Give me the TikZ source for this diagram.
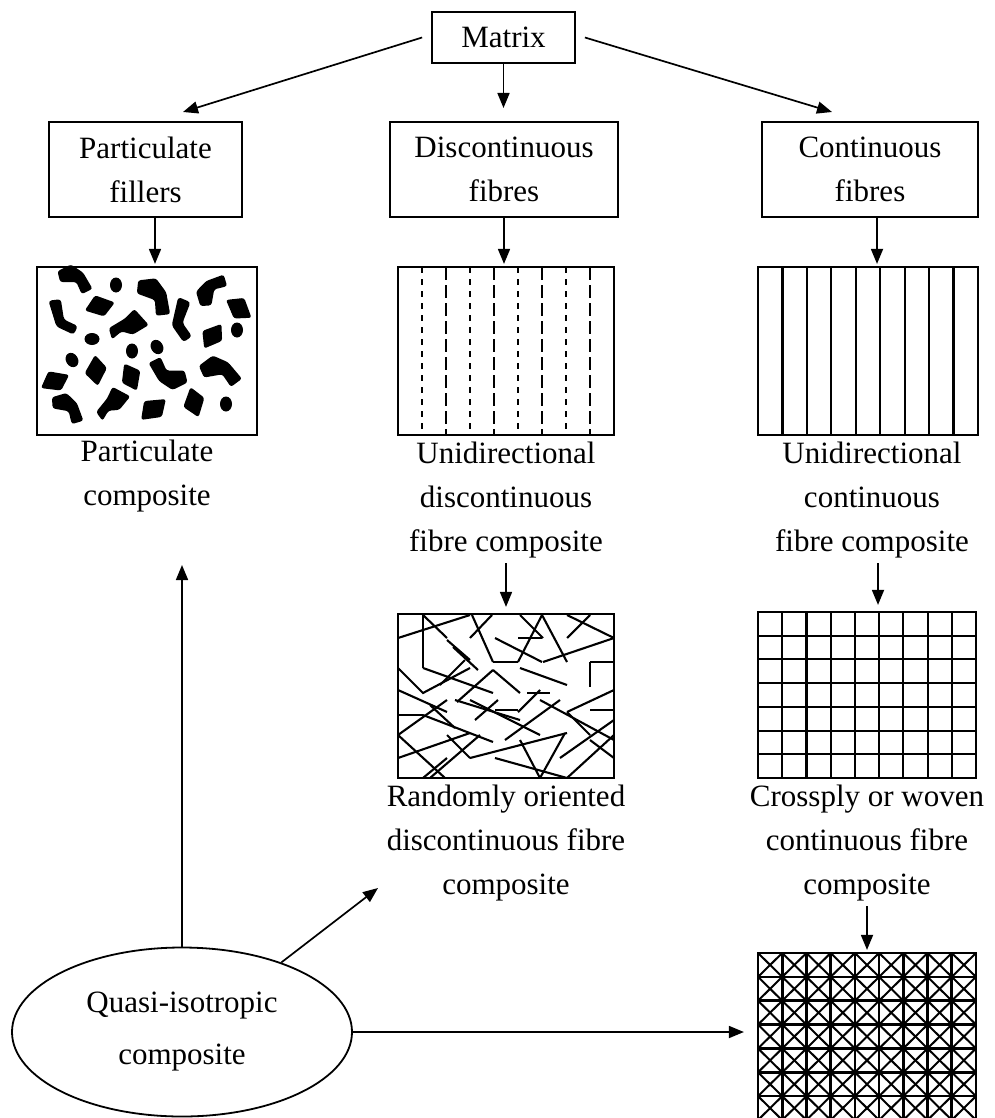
\documentclass[tikz,border=0pt]{standalone}
\usepackage{fontspec}
\setmainfont{Liberation Serif}
\usetikzlibrary{arrows.meta,shapes.geometric,calc}
\tikzset{
  tbox/.style={draw,line width=1.8pt,align=center,inner sep=0pt,font=\fontsize{31}{44}\selectfont},
  panel/.style={draw,line width=2.2pt,inner sep=0pt},
  lbl/.style={align=center,inner sep=0pt,font=\fontsize{31}{44}\selectfont},
  arr/.style={line width=1.7pt,-{Triangle[length=15pt,width=12pt]}},
  fib/.style={line width=2.1pt},
  blobL/.pic={\fill[rounded corners=2.5pt] (-13,-5) -- (-3,-10) -- (6,-4) -- (13,8) -- (5,12) -- (1,3) -- (-11,3) -- cycle;},
  blobK/.pic={\fill[rounded corners=2.5pt] (-12,0) -- (-1,-8) -- (11,2) -- (0,9) -- cycle;},
  blobS/.pic={\fill[rounded corners=3pt] (-6,-15) -- (3,-13) -- (0,2) -- (8,10) -- (3,15) -- (-7,5) -- cycle;},
  blobV/.pic={\fill[rounded corners=2.5pt] (-12,2) -- (-2,-4) -- (4,-10) -- (13,0) -- (3,6) -- (-4,4) -- (-10,9) -- cycle;},
  dotp/.pic={\fill (0,0) ellipse (6pt and 7.5pt);}
}
\begin{document}
\begin{tikzpicture}[x=1pt,y=-1pt]
\useasboundingbox (0,0) rectangle (994,1118);

% top boxes
\node[tbox,minimum width=143pt,minimum height=51pt] (M) at (503.5,37.5) {Matrix};
\node[tbox,minimum width=193pt,minimum height=95pt] (PF) at (145.5,169.5) {Particulate\\fillers};
\node[tbox,minimum width=228pt,minimum height=95pt] (DF) at (504,169.5) {Discontinuous\\fibres};
\node[tbox,minimum width=216pt,minimum height=95pt] (CF) at (870,169.5) {Continuous\\fibres};

% panels
\node[panel,minimum width=220pt,minimum height=168pt] (PC) at (147,351) {};
\node[panel,minimum width=216pt,minimum height=168pt] (UD) at (506,351) {};
\node[panel,minimum width=220pt,minimum height=168pt] (UC) at (868,351) {};
\node[panel,minimum width=216pt,minimum height=164pt] (RO) at (506,696) {};
\node[panel,minimum width=218pt,minimum height=166pt] (CP) at (867,695) {};
\node[panel,minimum width=218pt,minimum height=167pt] (XB) at (867,1036.5) {};

% labels
\node[lbl] (PCl) at (147,476) {Particulate\\composite};
\node[lbl] (UDl) at (506,500) {Unidirectional\\discontinuous\\fibre composite};
\node[lbl] (UCl) at (872,500) {Unidirectional\\continuous\\fibre composite};
\node[lbl] (ROl) at (506,843) {Randomly oriented\\discontinuous fibre\\composite};
\node[lbl] (CPl) at (867,843) {Crossply or woven\\continuous fibre\\composite};

% ellipse
\node[draw,ellipse,line width=1.8pt,minimum width=340pt,minimum height=169pt,inner sep=0pt,align=center,font=\fontsize{31}{52}\selectfont] (QI) at (182,1032) {Quasi-isotropic\\composite};

% arrow ends
\coordinate (PFtip) at (183,112);
\coordinate (CFtip) at (832,112);
\coordinate (DFtip) at (504,108);
\coordinate (PCtip) at (182,565);
\coordinate (ROtip) at (378,888);

% connectors
\draw[arr] ([xshift=-9pt]M.west) -- (PFtip);
\draw[arr] ([xshift=9pt]M.east) -- (CFtip);
\draw[arr] (M.south) -- (M.south |- DFtip);
\draw[arr,shorten >=2pt] ([xshift=9.5pt]PF.south) -- ([xshift=8pt]PC.north);
\draw[arr,shorten >=2pt] (DF.south) -- (DF.south |- UD.north);
\draw[arr,shorten >=2pt] ([xshift=7pt]CF.south) -- ([xshift=7pt]CF.south |- UC.north);
\draw[arr,shorten <=5pt,shorten >=6pt] (UDl.south) -- (UDl.south |- RO.north);
\draw[arr,shorten <=5pt,shorten >=6pt] ([xshift=6pt]UCl.south) -- ([xshift=6pt]UCl.south |- CP.north);
\draw[arr,shorten <=5pt,shorten >=2pt] (CPl.south) -- (CPl.south |- XB.north);
\draw[arr] (QI.north) -- (QI.north |- PCtip);
\draw[arr] (QI.35) -- (ROtip);
\draw[arr,shorten >=13pt] (QI.east) -- (QI.east -| XB.west);

% particulate blobs
\begin{scope}[scale=1]
\pic[scale=1.35] at (75,278) {blobL};
\pic at (116,285) {dotp};
\pic[rotate=-20,scale=1.6] at (155,295) {blobL};
\pic[rotate=80,scale=1.35] at (210,290) {blobL};
\pic[rotate=20,scale=1.35] at (63,317) {blobS};
\pic[rotate=20,scale=1.35] at (100,305) {blobK};
\pic[rotate=-10,scale=1.45] at (183,320) {blobS};
\pic[rotate=-30,scale=1.35] at (240,308) {blobK};
\pic[scale=1.6] at (128,325) {blobV};
\pic[rotate=60,scale=1.3] at (212,335) {blobK};
\pic at (237,330) {dotp};
\pic[rotate=90] at (92,339) {dotp};
\pic[rotate=30] at (157,347) {dotp};
\pic at (132,351) {dotp};
\pic[rotate=30] at (72,360) {dotp};
\pic[rotate=10,scale=1.55] at (220,370) {blobL};
\pic[rotate=100,scale=1.35] at (95,370) {blobK};
\pic[rotate=-60,scale=1.3] at (132,377) {blobK};
\pic[rotate=180,scale=1.5] at (168,375) {blobL};
\pic[rotate=30,scale=1.35] at (55,380) {blobK};
\pic[rotate=-10,scale=1.35] at (68,407) {blobL};
\pic[rotate=20,scale=1.5] at (112,403) {blobV};
\pic[rotate=45,scale=1.4] at (153,408) {blobK};
\pic[rotate=110,scale=1.35] at (193,402) {blobK};
\pic at (226,404) {dotp};
\end{scope}

% unidirectional discontinuous
\foreach \i in {1,3,5,7} \draw[fib,dash pattern=on 6pt off 6pt] (398+24*\i,267) -- (398+24*\i,435);
\foreach \i in {2,4,6,8} \draw[fib,dash pattern=on 13pt off 5pt] (398+24*\i,267) -- (398+24*\i,435);

% unidirectional continuous
\foreach \i in {1,...,8} \draw[fib] (758+24.44*\i,267) -- (758+24.44*\i,435);

% crossply grid
\foreach \i in {1,...,8} \draw[fib] (758+24.22*\i,612) -- (758+24.22*\i,778);
\foreach \j in {1,...,6} \draw[fib] (758,612+23.71*\j) -- (976,612+23.71*\j);

% woven / crossed grid
\begin{scope}
\clip (758,953) rectangle (976,1120);
\foreach \i in {1,...,8} \draw[line width=2.6pt] (758+24.22*\i,953) -- (758+24.22*\i,1120);
\foreach \j in {1,...,6} \draw[line width=2.6pt] (758,953+23.86*\j) -- (976,953+23.86*\j);
\foreach \i in {0,...,8} \foreach \j in {0,...,6} {
  \draw[line width=2pt] (758+24.22*\i,953+23.86*\j) -- (758+24.22*\i+24.22,953+23.86*\j+23.86);
  \draw[line width=2pt] (758+24.22*\i+24.22,953+23.86*\j) -- (758+24.22*\i,953+23.86*\j+23.86);
}
\end{scope}

% random fibres
\begin{scope}
\clip (398,614) rectangle (614,778);
\draw[fib] (398,638) -- (470,615);
\draw[fib] (423,615) -- (423,668);
\draw[fib] (423,615) -- (447,638);
\draw[fib] (470,638) -- (492,615);
\draw[fib] (472,615) -- (493,662);
\draw[fib] (495,638) -- (542,662);
\draw[fib] (518,638) -- (542,638);
\draw[fib] (520,615) -- (543,638);
\draw[fib] (542,615) -- (518,662);
\draw[fib] (542,615) -- (567,662);
\draw[fib] (567,638) -- (590,615);
\draw[fib] (543,662) -- (614,638);
\draw[fib] (590,662) -- (614,662);
\draw[fib] (567,615) -- (614,638);
\draw[fib] (453,647) -- (478,670);
\draw[fib] (398,668) -- (423,693) -- (470,668);
\draw[fib] (423,668) -- (493,693);
\draw[fib] (493,662) -- (518,662);
\draw[fib] (493,670) -- (520,693);
\draw[fib] (520,668) -- (567,685);
\draw[fib] (527,693) -- (550,693);
\draw[fib] (590,662) -- (590,687);
\draw[fib] (457,702) -- (493,670);
\draw[fib] (455,700) -- (520,720);
\draw[fib] (398,715) -- (423,715);
\draw[fib] (423,715) -- (493,742);
\draw[fib] (398,735) -- (447,700);
\draw[fib] (430,705) -- (455,728);
\draw[fib] (495,710) -- (518,710);
\draw[fib] (518,712) -- (540,690);
\draw[fib] (505,740) -- (560,700);
\draw[fib] (567,712) -- (590,735);
\draw[fib] (590,710) -- (614,710);
\draw[fib] (567,712) -- (614,690);
\draw[fib] (398,758) -- (470,733);
\draw[fib] (470,758) -- (567,733);
\draw[fib] (495,758) -- (567,778);
\draw[fib] (398,735) -- (445,778);
\draw[fib] (423,778) -- (447,758);
\draw[fib] (540,778) -- (565,733);
\draw[fib] (614,735) -- (567,778);
\draw[fib] (447,735) -- (470,758);
\draw[fib] (590,740) -- (614,758);
\draw[fib] (520,740) -- (540,778);
\draw[fib] (447,640) -- (470,660);
\draw[fib] (430,778) -- (480,735);
\draw[fib] (470,700) -- (540,735);
\draw[fib] (540,700) -- (614,740);
\draw[fib] (560,758) -- (614,720);
\draw[fib] (475,720) -- (498,700);
\draw[fib] (398,690) -- (447,712);
\draw[fib] (440,685) -- (465,660);
\end{scope}
\end{tikzpicture}
\end{document}
